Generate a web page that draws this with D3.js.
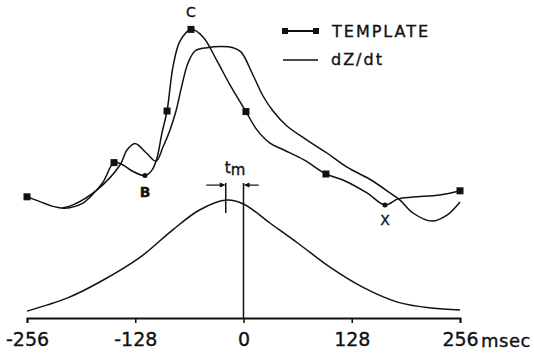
<!DOCTYPE html>
<html>
<head>
<meta charset="utf-8">
<script src="https://cdn.jsdelivr.net/npm/d3@7"></script>
<style>
  body { margin: 0; background: #fff; }
  svg { display: block; }
  text { font-family: "DejaVu Sans", sans-serif; fill: #111; stroke: #111; stroke-width: 0.35px; }
</style>
</head>
<body>
<script>
// time axis ticks (msec)
var tickValues = [-256, -128, 0, 128, 256];

// TEMPLATE trace, [msec, amplitude]
var templateCurve = [
  [-256, 40.4], [-240.6, 38.8], [-226.4, 37.3], [-211.1, 36.6], [-189.8, 38.3],
  [-181.5, 40.3], [-166.1, 45.3], [-153.1, 51.8], [-142.5, 51], [-131.8, 49],
  [-116.5, 47.5], [-108.2, 49.3], [-102.3, 53.3], [-96.4, 61.7], [-90.4, 69],
  [-83.4, 83.7], [-75.1, 92.3], [-62.1, 96.2], [-47.9, 93.7], [-31.3, 85.7],
  [-16, 77.7], [2.9, 68.8], [15.9, 62.7], [31.3, 58.3], [47.9, 56],
  [71.5, 52.7], [97.5, 48], [117.6, 46], [146, 41.7], [167.3, 37.7],
  [182.7, 39.7], [200.4, 40.3], [232.3, 41], [256, 42.4]
];
// sample points of the template (squares) and labelled points B, X
var templateSquares = [[-256, 40.4], [-153.1, 51.8], [-90.4, 69], [-62.1, 96.2], [2.9, 68.8], [97.5, 48], [256, 42.4]];
var pointB = [-116.5, 47.5];
var pointX = [167.3, 37.7];
var pointC = [-62.1, 96.2];

// dZ/dt trace
var dzdt = [
  [-214.6, 36.7], [-201.6, 37.7], [-173.2, 42.7], [-146, 51], [-137.8, 56],
  [-128.3, 58.2], [-114.5, 54.9], [-103.5, 52.3], [-95.2, 57], [-86.9, 62.7],
  [-79.8, 69], [-72.7, 77.7], [-65.6, 85], [-57.3, 89], [-43.2, 90.1],
  [-25.4, 90.5], [-12.4, 90.1], [-3, 88.7], [11.2, 81], [23.1, 74],
  [34.9, 69], [51.4, 64], [75.1, 59.3], [98.7, 55], [122.4, 50.3],
  [150.8, 46], [173.2, 41.7], [185.1, 39.3], [200.4, 35], [222.9, 32.3],
  [240.6, 34.3], [256, 38.7]
];

// bell-shaped weighting curve
var bell = [
  [-256, 2.3], [-208, 6.7], [-170, 12], [-122, 20.3], [-84, 29.3],
  [-52, 36], [-20, 39.3], [0, 38], [32, 31.5], [64, 25], [104, 16.6],
  [142, 10.1], [182, 5.3], [222, 3.3], [256, 2.7]
];

// tm marker: peak time and zero reference
var tmPeak = -21, tmZero = 0;

var width = 534, height = 353;
var svg = d3.select("body").append("svg")
  .attr("width", width)
  .attr("height", height);

var x = d3.scaleLinear().domain([-256, 256]).range([27, 460]);
var y = d3.scaleLinear().domain([0, 100]).range([318, 18]);

var line = d3.line()
  .x(function (d) { return x(d[0]); })
  .y(function (d) { return y(d[1]); })
  .curve(d3.curveCatmullRom.alpha(0.5));

// axis
var axis = svg.append("g")
  .attr("transform", "translate(0," + y(0) + ")")
  .call(d3.axisBottom(x).tickValues(tickValues).tickSize(5).tickPadding(10).tickFormat(d3.format("d")));
axis.select(".domain").attr("stroke", "#111").attr("stroke-width", 2);
axis.selectAll(".tick line").attr("stroke", "#111").attr("stroke-width", 1.5);
axis.selectAll(".tick text")
  .style("font-family", "'DejaVu Sans', sans-serif")
  .style("font-size", "19px")
  .attr("fill", "#111")
  .text(function (d) { return d < 0 ? "-" + (-d) : d; });

svg.append("text")
  .attr("x", x(256) + 21)
  .attr("y", 347)
  .style("font-size", "18px")
  .style("letter-spacing", "0.5px")
  .text("msec");

// curves
[templateCurve, dzdt, bell].forEach(function (data) {
  svg.append("path")
    .datum(data)
    .attr("d", line)
    .attr("fill", "none")
    .attr("stroke", "#111")
    .attr("stroke-width", 1.5);
});

svg.selectAll(".sq")
  .data(templateSquares)
  .enter().append("rect")
  .attr("class", "sq")
  .attr("x", function (d) { return x(d[0]) - 3.5; })
  .attr("y", function (d) { return y(d[1]) - 3.5; })
  .attr("width", 7)
  .attr("height", 7)
  .attr("fill", "#111");

svg.selectAll(".dot")
  .data([pointB, pointX])
  .enter().append("circle")
  .attr("cx", function (d) { return x(d[0]); })
  .attr("cy", function (d) { return y(d[1]); })
  .attr("r", 2.5)
  .attr("fill", "#111");

// point labels
svg.append("text").attr("x", x(pointC[0])).attr("y", y(pointC[1]) - 12)
  .attr("text-anchor", "middle").style("font-size", "14px").text("C");
svg.append("text").attr("x", x(pointB[0])).attr("y", y(pointB[1]) + 21)
  .attr("text-anchor", "middle").style("font-size", "14px").style("font-weight", "bold").text("B");
svg.append("text").attr("x", x(pointX[0])).attr("y", y(pointX[1]) + 20)
  .attr("text-anchor", "middle").style("font-size", "14px").text("X");

// tm marker
var topV = 45, arrowV = 44.3;
svg.append("line")
  .attr("x1", x(tmZero)).attr("x2", x(tmZero))
  .attr("y1", y(topV)).attr("y2", y(0))
  .attr("stroke", "#111").attr("stroke-width", 1.5);
svg.append("line")
  .attr("x1", x(tmPeak)).attr("x2", x(tmPeak))
  .attr("y1", y(topV)).attr("y2", y(35))
  .attr("stroke", "#111").attr("stroke-width", 1.5);

function arrow(from, to) {
  var x0 = x(from), x1 = x(to), yy = y(arrowV);
  var dir = x1 > x0 ? 1 : -1;
  svg.append("line")
    .attr("x1", x0).attr("x2", x1 - dir * 4)
    .attr("y1", yy).attr("y2", yy)
    .attr("stroke", "#111").attr("stroke-width", 1.2);
  svg.append("path")
    .attr("d", "M" + x1 + "," + yy + "L" + (x1 - dir * 6) + "," + (yy - 2.5) + "L" + (x1 - dir * 6) + "," + (yy + 2.5) + "Z")
    .attr("fill", "#111");
}
arrow(tmPeak - 23, tmPeak);
arrow(tmZero + 18, tmZero);

var tm = svg.append("text")
  .attr("x", x(tmPeak) - 1)
  .attr("y", 173)
  .style("font-size", "15px");
tm.append("tspan").text("t");
tm.append("tspan").attr("dy", 2).text("m");

// legend
var lg = svg.append("g");
lg.append("line").attr("x1", 285).attr("x2", 316).attr("y1", 31).attr("y2", 31)
  .attr("stroke", "#111").attr("stroke-width", 2);
lg.append("rect").attr("x", 282).attr("y", 28).attr("width", 6).attr("height", 6).attr("fill", "#111");
lg.append("rect").attr("x", 313).attr("y", 28).attr("width", 6).attr("height", 6).attr("fill", "#111");
lg.append("text").attr("x", 332).attr("y", 37)
  .style("font-size", "16px").style("letter-spacing", "2px").text("TEMPLATE");
lg.append("line").attr("x1", 283).attr("x2", 318).attr("y1", 60).attr("y2", 60)
  .attr("stroke", "#111").attr("stroke-width", 1.5);
lg.append("text").attr("x", 331).attr("y", 65)
  .style("font-size", "16px").style("letter-spacing", "2px").text("dZ/dt");
</script>
</body>
</html>
